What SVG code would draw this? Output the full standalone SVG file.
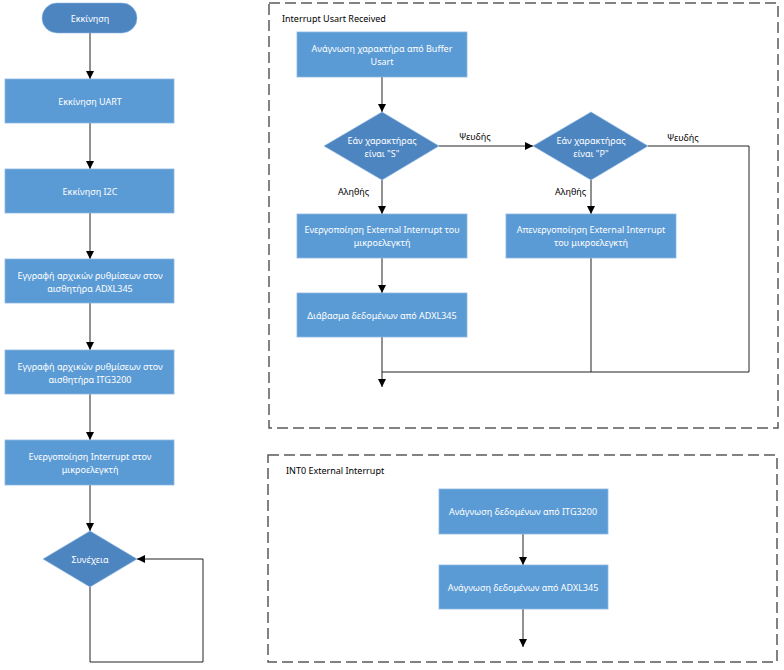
<svg xmlns="http://www.w3.org/2000/svg" width="784" height="670" viewBox="0 0 784 670">
<defs>
<marker id="arr" viewBox="0 0 10 10" refX="10" refY="5" markerWidth="8" markerHeight="8" markerUnits="userSpaceOnUse" orient="auto">
<path d="M0,0 L10,5 L0,10 z" fill="#000"/>
</marker>
</defs>
<style>
.box{fill:#5b9bd5;stroke:#8cb7e2;stroke-width:0.8}
.dk{fill:#4d85c1;stroke:#8cb7e2;stroke-width:0.6}
.t{font-family:"Noto Sans","Open Sans",sans-serif;font-size:9px;fill:#fff;text-anchor:middle;dominant-baseline:central}
.lb{font-family:"Noto Sans","Open Sans",sans-serif;font-size:9px;fill:#000;dominant-baseline:central}
.frame{fill:none;stroke:#595959;stroke-width:1.5;stroke-dasharray:11,5}
.c{fill:none;stroke:#222;stroke-width:1}
.ca{fill:none;stroke:#222;stroke-width:1;marker-end:url(#arr)}
</style>
<rect width="784" height="670" fill="#fff"/>

<g id="frame1"><rect class="frame" x="269" y="3" width="509" height="425"/><text class="lb" x="282" y="18">Interrupt Usart Received</text></g>
<g id="frame2"><rect class="frame" x="268" y="455" width="509" height="207"/><text class="lb" x="286" y="470">INT0 External Interrupt</text></g>

<g id="connectors">
<path class="ca" d="M90,33 V79"/>
<path class="ca" d="M90,123 V169"/>
<path class="ca" d="M90,213 V259"/>
<path class="ca" d="M90,303 V350"/>
<path class="ca" d="M90,394 V440"/>
<path class="ca" d="M90,485 V531"/>
<path class="ca" d="M90,587 V662 H203 V559 H137"/>
<path class="ca" d="M382,77 V112"/>
<path class="ca" d="M439,146 H533"/>
<path class="ca" d="M382,180 V214"/>
<path class="ca" d="M591,180 V214"/>
<path class="ca" d="M382,258 V293"/>
<path class="ca" d="M382,337 V387"/>
<path class="c" d="M648,146 H749 V372 H382"/>
<path class="c" d="M591,258 V372"/>
<path class="ca" d="M523,534 V565"/>
<path class="ca" d="M523,609 V647"/>
<text class="lb" x="459" y="136">Ψευδής</text>
<text class="lb" x="667" y="137">Ψευδής</text>
<text class="lb" x="338" y="191">Αληθής</text>
<text class="lb" x="555" y="191">Αληθής</text>
</g>

<g id="start"><rect class="dk" x="42" y="3" width="95" height="30" rx="15"/><text class="t" x="90" y="18">Εκκίνηση</text></g>
<g id="uart"><rect class="box" x="5" y="79" width="169" height="44"/><text class="t" x="90" y="101">Εκκίνηση UART</text></g>
<g id="i2c"><rect class="box" x="5" y="169" width="169" height="44"/><text class="t" x="90" y="191">Εκκίνηση I2C</text></g>
<g id="adxl"><rect class="box" x="5" y="259" width="169" height="44"/><text class="t" x="90" y="275">Εγγραφή αρχικών ρυθμίσεων στον</text><text class="t" x="90" y="288">αισθητήρα ADXL345</text></g>
<g id="itg"><rect class="box" x="5" y="350" width="169" height="44"/><text class="t" x="90" y="366">Εγγραφή αρχικών ρυθμίσεων στον</text><text class="t" x="90" y="379">αισθητήρα ITG3200</text></g>
<g id="intr"><rect class="box" x="5" y="440" width="169" height="45"/><text class="t" x="90" y="456">Ενεργοποίηση Interrupt στον</text><text class="t" x="90" y="469">μικροελεγκτή</text></g>
<g id="cont"><polygon class="dk" points="90,531 137,559 90,587 43,559"/><text class="t" x="90" y="559">Συνέχεια</text></g>

<g id="read"><rect class="box" x="297" y="32" width="170" height="45"/><text class="t" x="382" y="48">Ανάγνωση χαρακτήρα από Buffer</text><text class="t" x="382" y="61">Usart</text></g>
<g id="ds"><polygon class="dk" points="382,112 439,146 382,180 324,146"/><text class="t" x="382" y="140">Εάν χαρακτήρας</text><text class="t" x="382" y="153">είναι "S"</text></g>
<g id="dp"><polygon class="dk" points="591,112 648,146 591,180 533,146"/><text class="t" x="591" y="140">Εάν χαρακτήρας</text><text class="t" x="591" y="153">είναι "P"</text></g>
<g id="en"><rect class="box" x="297" y="214" width="170" height="44"/><text class="t" x="382" y="229">Ενεργοποίηση External Interrupt του</text><text class="t" x="382" y="242">μικροελεγκτή</text></g>
<g id="dis"><rect class="box" x="506" y="214" width="170" height="44"/><text class="t" x="591" y="229">Απενεργοποίηση External Interrupt</text><text class="t" x="591" y="242">του μικροελεγκτή</text></g>
<g id="rd"><rect class="box" x="297" y="293" width="170" height="44"/><text class="t" x="382" y="315">Διάβασμα δεδομένων από ADXL345</text></g>

<g id="ritg"><rect class="box" x="439" y="489" width="169" height="45"/><text class="t" x="523" y="511.5">Ανάγνωση δεδομένων από ITG3200</text></g>
<g id="radxl"><rect class="box" x="439" y="565" width="169" height="44"/><text class="t" x="523" y="587">Ανάγνωση δεδομένων από ADXL345</text></g>
</svg>
